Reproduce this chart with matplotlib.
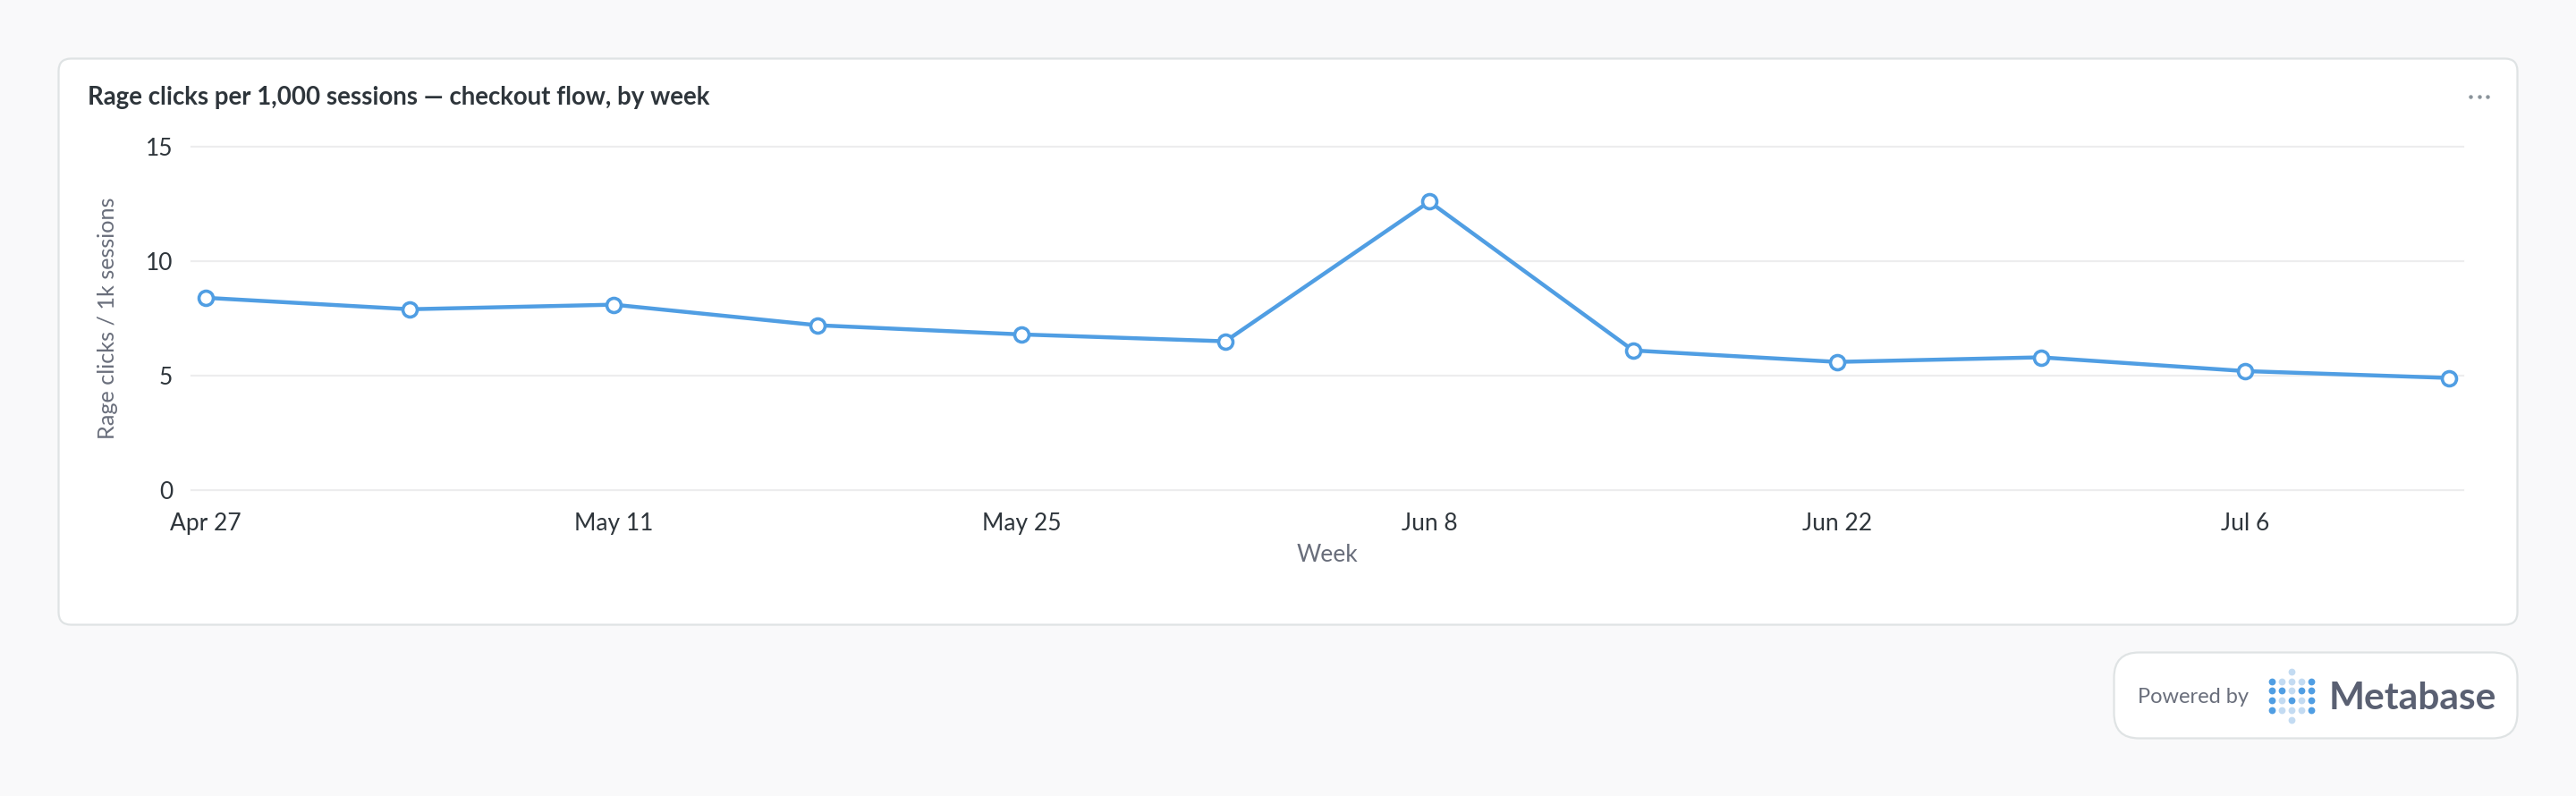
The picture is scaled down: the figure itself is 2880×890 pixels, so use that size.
import matplotlib
matplotlib.use("Agg")
import matplotlib.pyplot as plt
from matplotlib.patches import FancyBboxPatch
import datetime as dt

W, H = 2880, 890
plt.rcParams['font.family'] = ['Lato', 'DejaVu Sans']

weeks = ["2026-04-27", "2026-05-04", "2026-05-11", "2026-05-18", "2026-05-25", "2026-06-01",
         "2026-06-08", "2026-06-15", "2026-06-22", "2026-06-29", "2026-07-06", "2026-07-13"]
rage_clicks = [8.4, 7.9, 8.1, 7.2, 6.8, 6.5, 12.6, 6.1, 5.6, 5.8, 5.2, 4.9]
y_ticks = [0, 5, 10, 15]
x_tick_weeks = ["2026-04-27", "2026-05-11", "2026-05-25", "2026-06-08", "2026-06-22", "2026-07-06"]
x_tick_labels = ["Apr 27", "May 11", "May 25", "Jun 8", "Jun 22", "Jul 6"]
title = "Rage clicks per 1,000 sessions \u2014 checkout flow, by week"
logo_rows = ["..l..", "dllld", "ddldd", "dldld", "dllld", "..l.."]

def d(s):
    return dt.datetime.strptime(s, "%Y-%m-%d")

fig = plt.figure(figsize=(W / 100, H / 100), dpi=100, facecolor="#f9f9fa")

# pixel-space background layer
bg = fig.add_axes([0, 0, 1, 1], zorder=0)
bg.set_xlim(0, W); bg.set_ylim(H, 0); bg.axis("off")
def card(x0, y0, x1, y1, r):
    bg.add_patch(FancyBboxPatch((x0 + r, y0 + r), x1 - x0 - 2 * r, y1 - y0 - 2 * r,
                                boxstyle=f"round,pad={r},rounding_size={r}",
                                fc="white", ec="#dfe3e4", lw=1.6))
card(65.5, 65.5, 2814.5, 698.5, 14)
card(2363.5, 729.5, 2814.5, 825.5, 28)

bg.text(98, 109, title, fontsize=19.9, fontweight="bold", color="#2e353b", va="center", ha="left")
for px in (2762, 2771.5, 2780.5):
    bg.plot(px, 108, "o", ms=3.2, color="#8a939a", mew=0)

bg.text(2390, 780, "Powered by", fontsize=17, color="#696e7b", va="center", ha="left")
logo_x = [2539.8, 2550.8, 2561.6, 2572.6, 2583.8]
logo_y = [750.7, 761.7, 772.2, 783.2, 794.2, 805.2]
logo_col = {"d": "#509ee3", "l": "#c3dbf2"}
for yy, row in zip(logo_y, logo_rows):
    for xx, c in zip(logo_x, row):
        if c != ".":
            bg.plot(xx, yy, "o", ms=5.6, color=logo_col[c], mew=0)
bg.text(2604, 793, "Metabase", fontsize=30.6, fontweight="bold", color="#5a6072", va="baseline", ha="left")

# chart
ax = fig.add_axes([214 / W, 1 - 548 / H, (2754 - 214) / W, (548 - 164) / H], zorder=1)
ax.patch.set_alpha(0)
xs = [d(s) for s in weeks]
pad = dt.timedelta(days=0.5)
ax.set_xlim(xs[0] - pad, xs[-1] + pad)
ax.set_ylim(0, 15)
for s in ax.spines.values():
    s.set_visible(False)
ax.set_yticks(y_ticks)
ax.set_xticks([d(s) for s in x_tick_weeks])
ax.set_xticklabels(x_tick_labels)
ax.tick_params(axis="both", length=0, labelsize=19, labelcolor="#2e353b")
ax.tick_params(axis="y", pad=15)
ax.tick_params(axis="x", pad=18)
ax.grid(axis="y", color="#ededee", lw=1.6, clip_on=False)
ax.set_axisbelow(True)
ax.plot(xs, rage_clicks, color="#509ee3", lw=3.2, marker="o", ms=11.5, mfc="white",
        mec="#509ee3", mew=2.6, clip_on=False, solid_joinstyle="round")
bg.text(120, 356, "Rage clicks / 1k sessions", rotation=90, fontsize=18.2, color="#696e7b",
        va="center", ha="center")
bg.text(1484, 621, "Week", fontsize=19, color="#696e7b", va="center", ha="center")

fig.savefig("out.png", dpi=100, facecolor=fig.get_facecolor())
